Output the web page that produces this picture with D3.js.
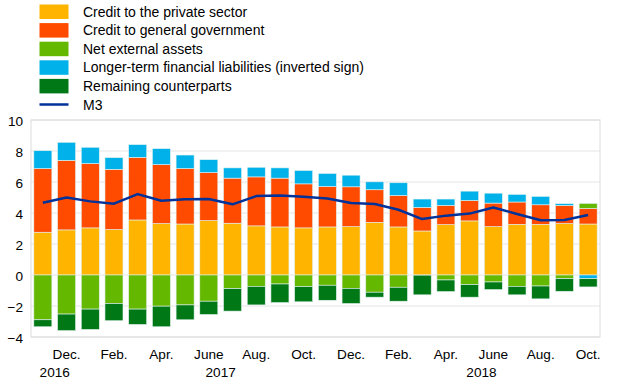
<!DOCTYPE html>
<html>
<head>
<meta charset="utf-8">
<script src="https://cdn.jsdelivr.net/npm/d3@7"></script>
<style>
  body { margin: 0; background: #fff; }
  svg text { font-family: "Liberation Sans", Arial, sans-serif; fill: #000; }
</style>
</head>
<body>
<svg id="chart" width="620" height="387"></svg>
<script>
// monthly data, Nov 2016 - Oct 2018 (annual % change / pp contributions)
const months = ['Nov.', 'Dec.', 'Jan.', 'Feb.', 'Mar.', 'Apr.', 'May', 'June', 'July', 'Aug.', 'Sep.', 'Oct.',
  'Nov.', 'Dec.', 'Jan.', 'Feb.', 'Mar.', 'Apr.', 'May', 'June', 'July', 'Aug.', 'Sep.', 'Oct.'];
const years = [2016, 2016, 2017, 2017, 2017, 2017, 2017, 2017, 2017, 2017, 2017, 2017,
  2017, 2017, 2018, 2018, 2018, 2018, 2018, 2018, 2018, 2018, 2018, 2018];

const privateCredit = [2.76, 2.91, 3.04, 2.93, 3.55, 3.32, 3.29, 3.51, 3.34, 3.17, 3.10, 3.04,
  3.10, 3.12, 3.40, 3.10, 2.84, 3.25, 3.49, 3.12, 3.27, 3.27, 3.32, 3.29];
const govCredit = [4.11, 4.49, 4.15, 3.89, 4.04, 3.80, 3.58, 3.10, 2.91, 3.16, 3.15, 2.84,
  2.61, 2.57, 2.10, 2.03, 1.52, 1.24, 1.32, 1.52, 1.44, 1.26, 1.17, 1.01];
const netExternal = [-2.89, -2.52, -2.20, -1.84, -2.20, -2.01, -1.93, -1.69, -0.88, -0.73, -0.58, -0.75,
  -0.66, -0.86, -1.11, -0.79, -0.01, -0.32, -0.62, -0.45, -0.73, -0.71, -0.24, 0.32];
const longerTerm = [1.15, 1.16, 1.05, 0.75, 0.82, 1.03, 0.87, 0.83, 0.66, 0.62, 0.66, 0.86,
  0.84, 0.75, 0.51, 0.82, 0.54, 0.41, 0.60, 0.64, 0.49, 0.54, 0.11, -0.24];
const remaining = [-0.45, -1.07, -1.31, -1.11, -0.99, -1.33, -0.96, -0.86, -1.45, -1.20, -1.20, -0.98,
  -0.97, -0.98, -0.32, -0.90, -1.27, -0.75, -0.81, -0.49, -0.55, -0.83, -0.81, -0.53];
const m3 = [4.66, 5.00, 4.75, 4.60, 5.22, 4.79, 4.88, 4.90, 4.56, 5.09, 5.13, 5.05,
  4.94, 4.64, 4.58, 4.21, 3.61, 3.83, 3.96, 4.36, 3.94, 3.53, 3.55, 3.87];

const yTicks = [-4, -2, 0, 2, 4, 6, 8, 10];

const series = [
  { key: 'private', label: 'Credit to the private sector', color: '#FFB400', values: privateCredit },
  { key: 'gov', label: 'Credit to general government', color: '#FF4B00', values: govCredit },
  { key: 'nea', label: 'Net external assets', color: '#65B800', values: netExternal },
  { key: 'ltfl', label: 'Longer-term financial liabilities (inverted sign)', color: '#00B1EA', values: longerTerm },
  { key: 'rem', label: 'Remaining counterparts', color: '#007816', values: remaining }
];

const svg = d3.select('#chart');
const plot = { left: 31, right: 600, top: 120, bottom: 337 };
const axisFont = 13.6;
const legendFont = 14;

const rows = months.map((m, i) => {
  const r = { i };
  series.forEach(s => { r[s.key] = s.values[i]; });
  return r;
});

const x = d3.scaleBand()
  .domain(d3.range(months.length))
  .range([plot.left, plot.right])
  .paddingInner(0.24)
  .paddingOuter(0.12);

const y = d3.scaleLinear()
  .domain([-4, 10])
  .range([plot.bottom, plot.top]);

// grid
svg.append('g')
  .selectAll('line')
  .data(yTicks)
  .join('line')
  .attr('x1', plot.left).attr('x2', plot.right)
  .attr('y1', d => y(d)).attr('y2', d => y(d))
  .attr('stroke', '#e4e4e4')
  .attr('stroke-width', 1);

// frame
svg.append('rect')
  .attr('x', plot.left).attr('y', plot.top)
  .attr('width', plot.right - plot.left).attr('height', plot.bottom - plot.top)
  .attr('fill', 'none')
  .attr('stroke', '#dcdcdc')
  .attr('stroke-width', 1);

// stacked bars
const stack = d3.stack()
  .keys(series.map(s => s.key))
  .offset(d3.stackOffsetDiverging);
const stacked = stack(rows);

svg.append('g')
  .selectAll('g')
  .data(stacked)
  .join('g')
  .attr('fill', (d, k) => series[k].color)
  .selectAll('rect')
  .data(d => d)
  .join('rect')
  .attr('x', d => x(d.data.i))
  .attr('width', x.bandwidth())
  .attr('y', d => y(Math.max(d[0], d[1])))
  .attr('height', d => Math.abs(y(d[0]) - y(d[1])))
  .attr('stroke', '#e2f2f0')
  .attr('stroke-width', 0.6);

// M3 line
const line = d3.line()
  .x((d, i) => x(i) + x.bandwidth() / 2)
  .y(d => y(d));

svg.append('path')
  .datum(m3)
  .attr('fill', 'none')
  .attr('stroke', '#003299')
  .attr('stroke-width', 2.5)
  .attr('stroke-linejoin', 'round')
  .attr('d', line);

// y axis labels
const yAxis = svg.append('g')
  .attr('transform', `translate(${plot.left},0)`)
  .call(d3.axisLeft(y).tickValues(yTicks).tickSize(0).tickPadding(8).tickFormat(d3.format('d')));
yAxis.select('.domain').remove();
yAxis.selectAll('text')
  .attr('font-size', axisFont)
  .attr('font-family', '"Liberation Sans", Arial, sans-serif')
  .attr('dy', '0.38em');

// x axis labels (every second month)
const xAxis = svg.append('g')
  .attr('transform', `translate(0,${plot.bottom})`)
  .call(d3.axisBottom(x)
    .tickValues(d3.range(1, months.length, 2))
    .tickSize(0)
    .tickPadding(12)
    .tickFormat(i => months[i]));
xAxis.select('.domain').remove();
xAxis.selectAll('text')
  .attr('font-size', axisFont)
  .attr('font-family', '"Liberation Sans", Arial, sans-serif');

// year labels centred under their months
const yearGroups = d3.groups(d3.range(months.length), i => years[i]);
svg.append('g')
  .selectAll('text')
  .data(yearGroups)
  .join('text')
  .attr('x', d => d3.mean(d[1], i => x(i) + x.bandwidth() / 2))
  .attr('y', 377)
  .attr('text-anchor', 'middle')
  .attr('font-size', axisFont)
  .text(d => d[0]);

// legend
const legend = svg.append('g');
series.forEach((s, k) => {
  const cy = 11.5 + k * 18.6;
  legend.append('rect')
    .attr('x', 39.5).attr('y', cy - 7)
    .attr('width', 29).attr('height', 14.5)
    .attr('fill', s.color);
  legend.append('text')
    .attr('x', 83).attr('y', cy + 5)
    .attr('font-size', legendFont)
    .text(s.label);
});
const m3y = 11.5 + 5 * 18.6;
legend.append('line')
  .attr('x1', 39.5).attr('x2', 68.5)
  .attr('y1', m3y).attr('y2', m3y)
  .attr('stroke', '#003299')
  .attr('stroke-width', 2.5);
legend.append('text')
  .attr('x', 83).attr('y', m3y + 5)
  .attr('font-size', legendFont)
  .text('M3');
</script>
</body>
</html>
